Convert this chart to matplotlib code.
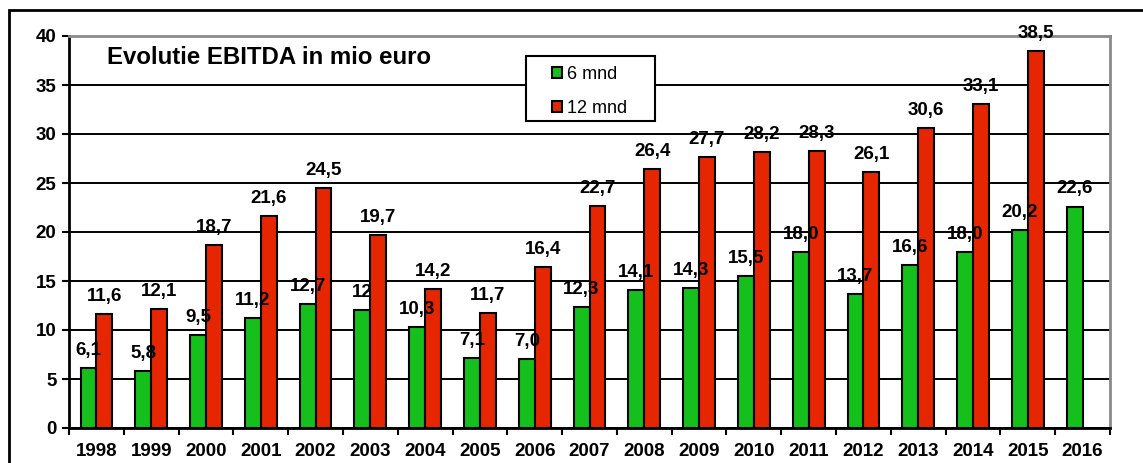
import numpy as np
import matplotlib.pyplot as plt
from matplotlib.patches import Rectangle

plt.rcParams['font.family'] = ['Liberation Sans', 'DejaVu Sans']

years = ['1998', '1999', '2000', '2001', '2002', '2003', '2004', '2005', '2006', '2007',
         '2008', '2009', '2010', '2011', '2012', '2013', '2014', '2015', '2016']
mnd6 = [6.1, 5.8, 9.5, 11.2, 12.7, 12.0, 10.3, 7.1, 7.0, 12.3,
        14.1, 14.3, 15.5, 18.0, 13.7, 16.6, 18.0, 20.2, 22.6]
mnd12 = [11.6, 12.1, 18.7, 21.6, 24.5, 19.7, 14.2, 11.7, 16.4, 22.7,
         26.4, 27.7, 28.2, 28.3, 26.1, 30.6, 33.1, 38.5]
lab6 = ['6,1', '5,8', '9,5', '11,2', '12,7', '12', '10,3', '7,1', '7,0', '12,3',
        '14,1', '14,3', '15,5', '18,0', '13,7', '16,6', '18,0', '20,2', '22,6']
lab12 = ['11,6', '12,1', '18,7', '21,6', '24,5', '19,7', '14,2', '11,7', '16,4', '22,7',
         '26,4', '27,7', '28,2', '28,3', '26,1', '30,6', '33,1', '38,5']

green = '#16c01c'
red = '#e52600'
fs = 13.5

fig = plt.figure(figsize=(11.43, 4.63), dpi=100)
ax = fig.add_axes([69/1143, 1-428/463, (1110-69)/1143, (428-36)/463])

x = np.arange(len(years))
w = 0.29
b6 = ax.bar(x - w/2, mnd6, w, color=green, edgecolor='black', linewidth=1.5, zorder=3, label='6 mnd')
b12 = ax.bar(x[:len(mnd12)] + w/2, mnd12, w, color=red, edgecolor='black', linewidth=1.5, zorder=3, label='12 mnd')

for xi, v, s in zip(x - w/2, mnd6, lab6):
    ax.annotate(s, (xi, v), xytext=(0, 6.5), textcoords='offset points', ha='center', va='bottom',
                fontsize=fs, fontweight='bold', zorder=5)
for xi, v, s in zip(x[:len(mnd12)] + w/2, mnd12, lab12):
    ax.annotate(s, (xi, v), xytext=(0, 6.5), textcoords='offset points', ha='center', va='bottom',
                fontsize=fs, fontweight='bold', zorder=5, annotation_clip=False)

ax.set_xlim(-0.5, len(years) - 0.5)
ax.set_ylim(0, 40)
ax.set_yticks(range(0, 41, 5))
ax.set_xticks(x)
ax.set_xticklabels(years)
ax.set_xticks(np.arange(-0.5, len(years), 1), minor=True)
ax.tick_params(axis='x', which='major', length=0, pad=11, labelsize=fs)
ax.tick_params(axis='x', which='minor', length=5, width=1.5, direction='out')
ax.tick_params(axis='y', length=5, width=1.5, pad=4, labelsize=fs)
for lbl in ax.get_xticklabels() + ax.get_yticklabels():
    lbl.set_fontweight('bold')

ax.grid(axis='y', color='black', linewidth=1.4, zorder=0)
ax.set_axisbelow(True)
ax.spines['left'].set_linewidth(2)
ax.spines['bottom'].set_linewidth(2)
ax.spines['top'].set_color('#8a8a8a')
ax.spines['right'].set_color('#8a8a8a')
ax.spines['top'].set_linewidth(2)
ax.spines['right'].set_linewidth(2)

ax.text(107/1143, 1-57/463, 'Evolutie EBITDA in mio euro', transform=fig.transFigure,
        fontsize=17.3, fontweight='bold', va='center', ha='left')

# legend box
fig.patches.append(Rectangle((526/1143, 1-121/463), 129/1143, 65/463, transform=fig.transFigure,
                             facecolor='white', edgecolor='black', linewidth=1.5, zorder=2))
leg = fig.legend(handles=[b6, b12], loc='upper left', bbox_to_anchor=(548/1143, 1-62/463),
                 frameon=False, fontsize=13,
                 handlelength=0.55, handleheight=0.55, handletextpad=0.3, labelspacing=0.95,
                 borderpad=0.2, borderaxespad=0)
leg.set_zorder(6)

fig.patches.append(Rectangle((9/1143, -0.1), 1.1, 1 - 10/463 + 0.1, transform=fig.transFigure,
                             fill=False, edgecolor='black', linewidth=2))

fig.savefig('out.png', dpi=100)
